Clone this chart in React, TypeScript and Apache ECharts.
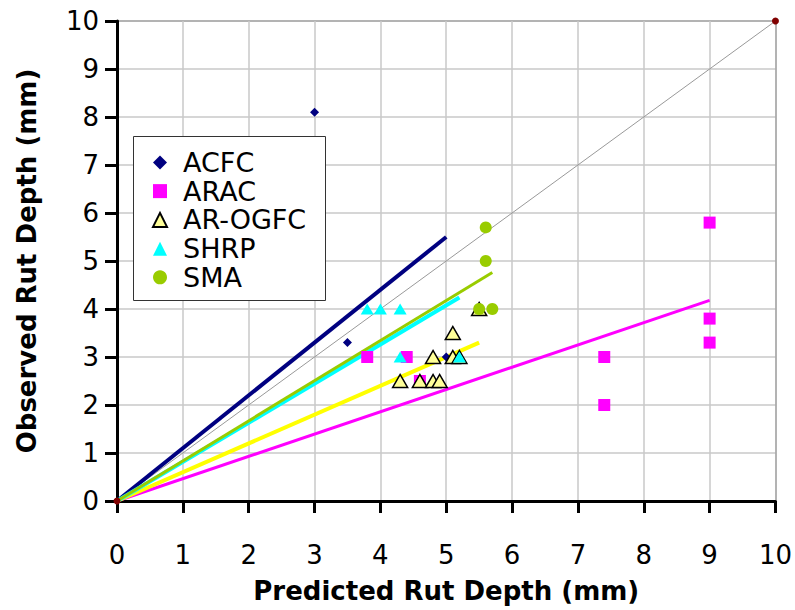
import React, { useEffect, useRef } from "react";
import * as echarts from "echarts";

// Measured vs. predicted rut depth (mm) per mix type
const acfc = [[3.0, 8.1], [3.5, 3.3], [5.0, 3.0]];
const arac = [[3.8, 3.0], [4.4, 3.0], [4.6, 2.5], [7.4, 3.0], [7.4, 2.0], [9.0, 5.8], [9.0, 3.8], [9.0, 3.3]];
const arOgfc = [[4.3, 2.5], [4.6, 2.5], [4.8, 2.5], [4.9, 2.5], [4.8, 3.0], [5.1, 3.5], [5.1, 3.0], [5.2, 3.0], [5.5, 4.0]];
const shrp = [[3.8, 4.0], [4.0, 4.0], [4.3, 4.0], [4.3, 3.0], [5.2, 3.0]];
const sma = [[5.6, 5.7], [5.6, 5.0], [5.5, 4.0], [5.7, 4.0]];

// Trend lines through the origin (start and end points)
const trendAcfc = [[0, 0], [5.0, 5.5]];
const trendArac = [[0, 0], [9.0, 4.18]];
const trendArOgfc = [[0, 0], [5.5, 3.3]];
const trendShrp = [[0, 0], [5.2, 4.24]];
const trendSma = [[0, 0], [5.7, 4.76]];

// Line of equality
const equality = [[0, 0], [10, 10]];

const FONT = "DejaVu Sans";

const gridColors = ["#c8c8c8", "#c8c8c8", "#c8c8c8", "#c8c8c8", "#c8c8c8", "#c8c8c8", "#c8c8c8", "#c8c8c8", "#c8c8c8", "#c8c8c8", "#9a9a9a"];

function trend(name: string, data: number[][], color: string, width: number) {
  return {
    name,
    type: "line",
    data,
    symbol: "none",
    silent: true,
    z: 2,
    lineStyle: { color, width, cap: "butt" },
  };
}

function valueAxis(name: string, isY: boolean) {
  return {
    type: "value",
    min: 0,
    max: 10,
    interval: 1,
    name,
    nameLocation: "middle",
    nameGap: 77,
    nameTextStyle: { fontFamily: FONT, fontSize: 26, fontWeight: "bold", color: "#000" },
    axisLine: { show: true, onZero: false, lineStyle: { color: "#000", width: 3 } },
    axisTick: { show: true, inside: false, length: 12, lineStyle: { color: "#000", width: 3 } },
    axisLabel: { fontFamily: FONT, fontSize: 26, color: "#000", margin: isY ? 18 : 41 },
    splitLine: { show: true, lineStyle: { color: gridColors, width: 1.5 } },
  };
}

export default function App() {
  const ref = useRef<HTMLDivElement>(null);

  useEffect(() => {
    if (!ref.current) return;
    document.body.style.margin = "0";
    const chart = echarts.init(ref.current, undefined, { renderer: "svg" });
    chart.setOption({
      animation: false,
      backgroundColor: "#fff",
      textStyle: { fontFamily: FONT },
      grid: { left: 117, right: 17.5, top: 21, bottom: 109 },
      xAxis: valueAxis("Predicted Rut Depth (mm)", false),
      yAxis: valueAxis("Observed Rut Depth (mm)", true),
      graphic: [
        {
          type: "rect",
          z: 3,
          shape: { x: 133.5, y: 136.5, width: 192, height: 164 },
          style: { fill: "#fff", stroke: "#333", lineWidth: 1 },
        },
      ],
      legend: {
        orient: "vertical",
        left: 152,
        top: 148,
        padding: 0,
        itemWidth: 14,
        itemHeight: 14,
        itemGap: 0,
        selectedMode: false,
        data: ["ACFC", "ARAC", "AR-OGFC", "SHRP", "SMA"],
        textStyle: { fontFamily: FONT, fontSize: 27, lineHeight: 28.75, color: "#000", padding: [0, 0, 0, 11] },
        z: 4,
      },
      series: [
        {
          name: "Line of equality",
          type: "line",
          data: equality,
          symbol: "circle",
          symbolSize: 7,
          silent: true,
          z: 2,
          itemStyle: { color: "#800000" },
          lineStyle: { color: "#999", width: 1 },
        },
        trend("ACFC trend", trendAcfc, "#000080", 4),
        trend("ARAC trend", trendArac, "#ff00ff", 3),
        trend("AR-OGFC trend", trendArOgfc, "#ffff00", 4),
        trend("SHRP trend", trendShrp, "#00ffff", 4),
        trend("SMA trend", trendSma, "#99cc00", 3),
        {
          name: "ACFC",
          type: "scatter",
          data: acfc,
          symbol: "diamond",
          symbolSize: 9,
          z: 3,
          itemStyle: { color: "#000080", opacity: 1 },
        },
        {
          name: "ARAC",
          type: "scatter",
          data: arac,
          symbol: "rect",
          symbolSize: 12,
          z: 3,
          itemStyle: { color: "#ff00ff", opacity: 1 },
        },
        {
          name: "AR-OGFC",
          type: "scatter",
          data: arOgfc,
          symbol: "triangle",
          symbolSize: [15, 13],
          z: 3,
          itemStyle: { color: "#ffff99", borderColor: "#000", borderWidth: 1.5, opacity: 1 },
        },
        {
          name: "SHRP",
          type: "scatter",
          data: shrp,
          symbol: "triangle",
          symbolSize: [13, 11],
          z: 3,
          itemStyle: { color: "#00ffff", opacity: 1 },
        },
        {
          name: "SMA",
          type: "scatter",
          data: sma,
          symbol: "circle",
          symbolSize: 12,
          z: 3,
          itemStyle: { color: "#99cc00", opacity: 1 },
        },
      ],
    });
    return () => chart.dispose();
  }, []);

  return <div ref={ref} style={{ width: 795, height: 610 }} />;
}
